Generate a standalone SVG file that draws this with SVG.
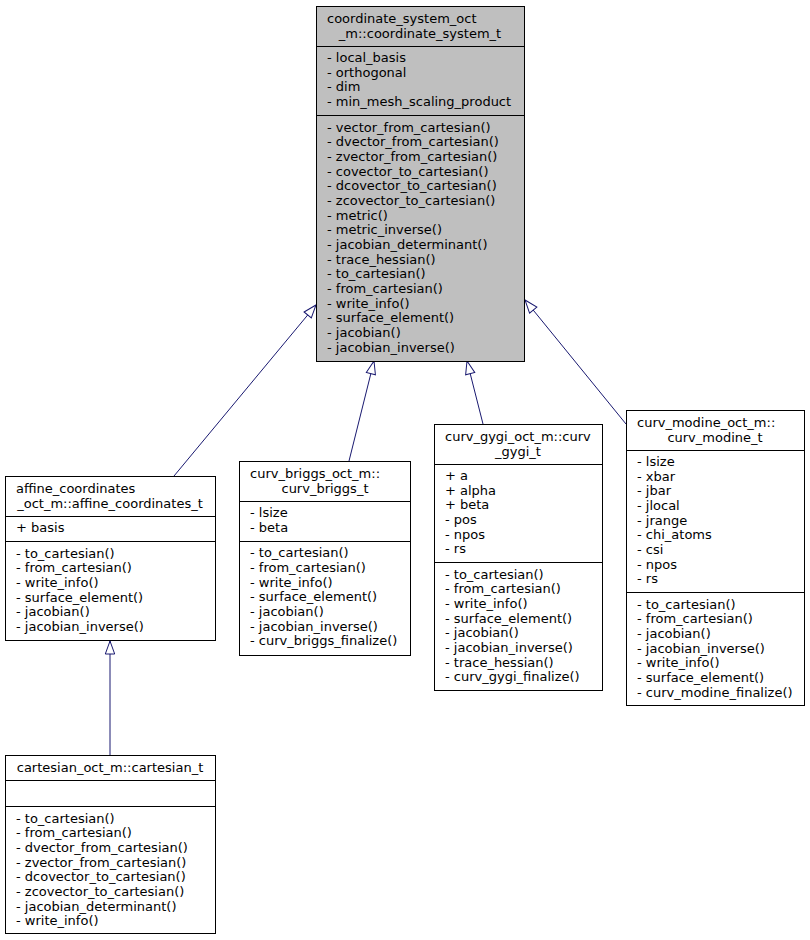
<svg xmlns="http://www.w3.org/2000/svg" width="810" height="940" viewBox="0 0 810 940">
<style>
text{font-family:"DejaVu Sans","Liberation Sans",sans-serif;font-size:13px;fill:#000}
.m{text-anchor:middle}
.box{fill:#fff;stroke:#000;stroke-width:1}
.root{fill:#bfbfbf}
.sep{stroke:#000;stroke-width:1}
.edge{fill:none;stroke:#191970;stroke-width:1}
</style>
<defs>
<marker id="arr" markerWidth="16" markerHeight="12" refX="14" refY="6" orient="auto" markerUnits="userSpaceOnUse" viewBox="0 0 16 12" overflow="visible">
<path d="M1,1.3 L14,6 L1,10.7 Z" fill="#fff" stroke="#191970" stroke-width="1"/>
</marker>
</defs>
<rect width="810" height="940" fill="#fff"/>
<g id="connectors">
<path class="edge" d="M174,476 L316,305" marker-end="url(#arr)"/>
<path class="edge" d="M349,461 L374,361" marker-end="url(#arr)"/>
<path class="edge" d="M483,424 L467,361" marker-end="url(#arr)"/>
<path class="edge" d="M626,424 L525,300" marker-end="url(#arr)"/>
<path class="edge" d="M110,755 L110,641" marker-end="url(#arr)"/>
</g>
<g id="coordinate_system_t">
<rect class="box root" x="316.5" y="6.5" width="208" height="355"/>
<line class="sep" x1="316.5" y1="46.5" x2="524.5" y2="46.5"/>
<line class="sep" x1="316.5" y1="115.5" x2="524.5" y2="115.5"/>
<text x="327" y="23">coordinate_system_oct</text>
<text class="m" x="420" y="37.7">_m::coordinate_system_t</text>
<text x="327" y="62">- local_basis</text>
<text x="327" y="76.67">- orthogonal</text>
<text x="327" y="91.33">- dim</text>
<text x="327" y="106">- min_mesh_scaling_product</text>
<text x="327" y="131.5">- vector_from_cartesian()</text>
<text x="327" y="146.17">- dvector_from_cartesian()</text>
<text x="327" y="160.83">- zvector_from_cartesian()</text>
<text x="327" y="175.5">- covector_to_cartesian()</text>
<text x="327" y="190.17">- dcovector_to_cartesian()</text>
<text x="327" y="204.83">- zcovector_to_cartesian()</text>
<text x="327" y="219.5">- metric()</text>
<text x="327" y="234.17">- metric_inverse()</text>
<text x="327" y="248.83">- jacobian_determinant()</text>
<text x="327" y="263.5">- trace_hessian()</text>
<text x="327" y="278.17">- to_cartesian()</text>
<text x="327" y="292.83">- from_cartesian()</text>
<text x="327" y="307.5">- write_info()</text>
<text x="327" y="322.17">- surface_element()</text>
<text x="327" y="336.83">- jacobian()</text>
<text x="327" y="351.5">- jacobian_inverse()</text>
</g>
<g id="affine_coordinates_t">
<rect class="box" x="5.5" y="476.5" width="210" height="164"/>
<line class="sep" x1="5.5" y1="516.5" x2="215.5" y2="516.5"/>
<line class="sep" x1="5.5" y1="541.5" x2="215.5" y2="541.5"/>
<text x="16" y="493">affine_coordinates</text>
<text class="m" x="110" y="507.7">_oct_m::affine_coordinates_t</text>
<text x="16" y="532">+ basis</text>
<text x="16" y="557.5">- to_cartesian()</text>
<text x="16" y="572.17">- from_cartesian()</text>
<text x="16" y="586.83">- write_info()</text>
<text x="16" y="601.5">- surface_element()</text>
<text x="16" y="616.17">- jacobian()</text>
<text x="16" y="630.83">- jacobian_inverse()</text>
</g>
<g id="curv_briggs_t">
<rect class="box" x="239.5" y="461.5" width="171" height="194"/>
<line class="sep" x1="239.5" y1="501.5" x2="410.5" y2="501.5"/>
<line class="sep" x1="239.5" y1="541.5" x2="410.5" y2="541.5"/>
<text x="250" y="478">curv_briggs_oct_m::</text>
<text class="m" x="325" y="492.7">curv_briggs_t</text>
<text x="250" y="517">- lsize</text>
<text x="250" y="531.67">- beta</text>
<text x="250" y="557.2">- to_cartesian()</text>
<text x="250" y="571.87">- from_cartesian()</text>
<text x="250" y="586.53">- write_info()</text>
<text x="250" y="601.2">- surface_element()</text>
<text x="250" y="615.87">- jacobian()</text>
<text x="250" y="630.53">- jacobian_inverse()</text>
<text x="250" y="645.2">- curv_briggs_finalize()</text>
</g>
<g id="curv_gygi_t">
<rect class="box" x="434.5" y="424.5" width="168" height="266"/>
<line class="sep" x1="434.5" y1="464.5" x2="602.5" y2="464.5"/>
<line class="sep" x1="434.5" y1="562.5" x2="602.5" y2="562.5"/>
<text x="445" y="441">curv_gygi_oct_m::curv</text>
<text class="m" x="518" y="455.7">_gygi_t</text>
<text x="445" y="480">+ a</text>
<text x="445" y="494.67">+ alpha</text>
<text x="445" y="509.33">+ beta</text>
<text x="445" y="524">- pos</text>
<text x="445" y="538.67">- npos</text>
<text x="445" y="553.33">- rs</text>
<text x="445" y="578.8">- to_cartesian()</text>
<text x="445" y="593.47">- from_cartesian()</text>
<text x="445" y="608.13">- write_info()</text>
<text x="445" y="622.8">- surface_element()</text>
<text x="445" y="637.47">- jacobian()</text>
<text x="445" y="652.13">- jacobian_inverse()</text>
<text x="445" y="666.8">- trace_hessian()</text>
<text x="445" y="681.47">- curv_gygi_finalize()</text>
</g>
<g id="curv_modine_t">
<rect class="box" x="626.5" y="410.5" width="178" height="295"/>
<line class="sep" x1="626.5" y1="450.5" x2="804.5" y2="450.5"/>
<line class="sep" x1="626.5" y1="592.5" x2="804.5" y2="592.5"/>
<text x="637" y="427">curv_modine_oct_m::</text>
<text class="m" x="715" y="441.7">curv_modine_t</text>
<text x="637" y="466">- lsize</text>
<text x="637" y="480.67">- xbar</text>
<text x="637" y="495.33">- jbar</text>
<text x="637" y="510">- jlocal</text>
<text x="637" y="524.67">- jrange</text>
<text x="637" y="539.33">- chi_atoms</text>
<text x="637" y="554">- csi</text>
<text x="637" y="568.67">- npos</text>
<text x="637" y="583.33">- rs</text>
<text x="637" y="608.8">- to_cartesian()</text>
<text x="637" y="623.47">- from_cartesian()</text>
<text x="637" y="638.13">- jacobian()</text>
<text x="637" y="652.8">- jacobian_inverse()</text>
<text x="637" y="667.47">- write_info()</text>
<text x="637" y="682.13">- surface_element()</text>
<text x="637" y="696.8">- curv_modine_finalize()</text>
</g>
<g id="cartesian_t">
<rect class="box" x="5.5" y="755.5" width="210" height="178"/>
<line class="sep" x1="5.5" y1="780.5" x2="215.5" y2="780.5"/>
<line class="sep" x1="5.5" y1="806.5" x2="215.5" y2="806.5"/>
<text class="m" x="110" y="772">cartesian_oct_m::cartesian_t</text>
<text x="16" y="822.5">- to_cartesian()</text>
<text x="16" y="837.17">- from_cartesian()</text>
<text x="16" y="851.83">- dvector_from_cartesian()</text>
<text x="16" y="866.5">- zvector_from_cartesian()</text>
<text x="16" y="881.17">- dcovector_to_cartesian()</text>
<text x="16" y="895.83">- zcovector_to_cartesian()</text>
<text x="16" y="910.5">- jacobian_determinant()</text>
<text x="16" y="925.17">- write_info()</text>
</g>
</svg>
